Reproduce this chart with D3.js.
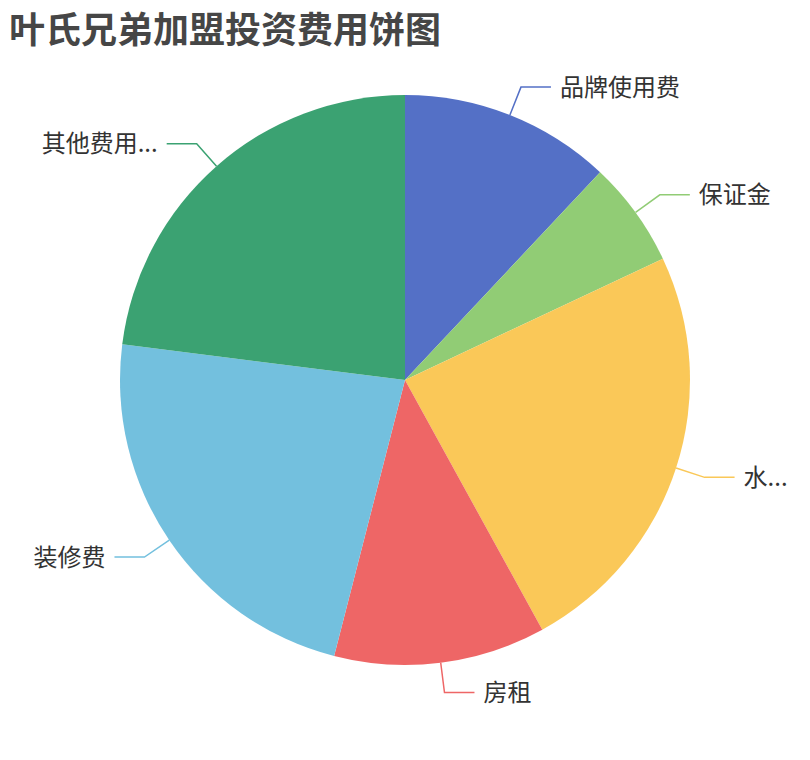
<!DOCTYPE html>
<html lang="zh">
<head>
    <meta charset="UTF-8">
    <title>叶氏兄弟加盟投资费用饼图</title>
    <script src="https://d3js.org/d3.v7.min.js"></script>
    <style>
        body { margin: 0; background: #fff; font-family: "Noto Sans CJK SC", "Noto Sans", sans-serif; }
    </style>
</head>
<body>
<script>
    // Data (shares in percent)
    const categories = ["品牌使用费", "保证金", "水...", "房租", "装修费", "其他费用..."];
    const values = [12, 6, 24, 12, 23, 23];
    const colors = ["#5470c6", "#91cc75", "#fac858", "#ee6666", "#73c0de", "#3ba272"];

    const width = 810, height = 760;
    const cx = 405, cy = 380, radius = 285;
    const len1 = 30, len2 = 30;

    const svg = d3.select("body").append("svg")
        .attr("width", width)
        .attr("height", height);

    // Title
    svg.append("text")
        .attr("x", 9)
        .attr("y", 27)
        .attr("dominant-baseline", "central")
        .attr("fill", "#464646")
        .style("font-size", "36px")
        .style("font-weight", "bold")
        .text("叶氏兄弟加盟投资费用饼图");

    const data = categories.map((name, i) => ({ name, value: values[i], color: colors[i] }));

    const pie = d3.pie().sort(null).value(d => d.value);
    const arc = d3.arc().innerRadius(0).outerRadius(radius);
    const arcs = pie(data);

    const g = svg.append("g").attr("transform", `translate(${cx},${cy})`);

    g.selectAll("path.slice")
        .data(arcs)
        .enter().append("path")
        .attr("class", "slice")
        .attr("d", arc)
        .attr("fill", d => d.data.color);

    // Label lines and labels
    const point = (a, r) => [r * Math.sin(a), -r * Math.cos(a)];

    arcs.forEach(d => {
        const mid = (d.startAngle + d.endAngle) / 2;
        const p0 = point(mid, radius);
        const p1 = point(mid, radius + len1);
        const right = Math.sin(mid) >= 0;
        const p2 = [p1[0] + (right ? len2 : -len2), p1[1]];

        g.append("polyline")
            .attr("points", [p0, p1, p2].map(p => p.join(",")).join(" "))
            .attr("fill", "none")
            .attr("stroke", d.data.color)
            .attr("stroke-width", 1.5);

        g.append("text")
            .attr("x", p2[0] + (right ? 9 : -9))
            .attr("y", p2[1] - 2)
            .attr("dominant-baseline", "central")
            .attr("text-anchor", right ? "start" : "end")
            .attr("fill", "#333")
            .style("font-size", "24px")
            .text(d.data.name);
    });
</script>
</body>
</html>
